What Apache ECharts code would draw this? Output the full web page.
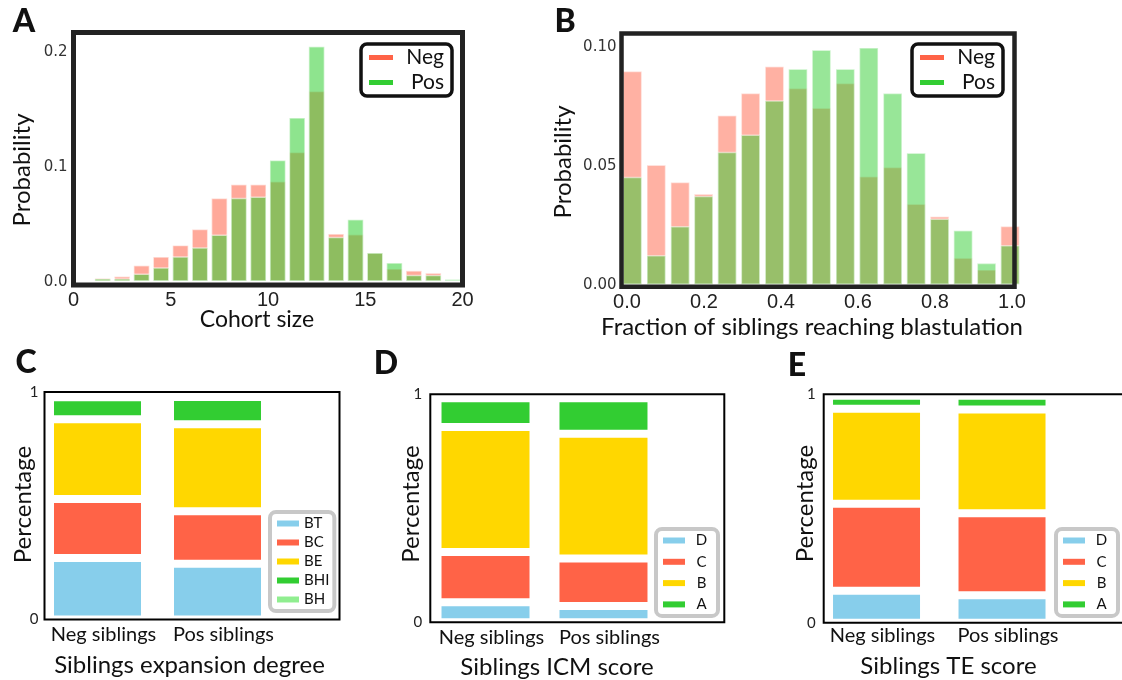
<!DOCTYPE html>
<html>
<head>
<meta charset="utf-8">
<script src="https://cdn.jsdelivr.net/npm/echarts@6/dist/echarts.min.js"></script>
<style>
  html, body { margin: 0; background: #fff; }
  #chart { width: 1122px; height: 680px; }
</style>
</head>
<body>
<div id="chart"></div>
<script>
// panel A: cohort size histogram
const cohortBins = [1.5, 2.5, 3.5, 4.5, 5.5, 6.5, 7.5, 8.5, 9.5, 10.5, 11.5, 12.5, 13.5, 14.5, 15.5, 16.5, 17.5, 18.5, 19.5]
const cohortNeg = [0.0035, 0.005, 0.0145, 0.022, 0.032, 0.046, 0.073, 0.085, 0.085, 0.0875, 0.113, 0.166, 0.042, 0.0415, 0.0255, 0.0116, 0.010, 0.008, 0]
const cohortPos = [0.003, 0.003, 0.007, 0.0125, 0.022, 0.030, 0.041, 0.073, 0.074, 0.106, 0.143, 0.205, 0.039, 0.0545, 0.0255, 0.0168, 0.006, 0.006, 0.0025]
const cohortTicks = [0, 5, 10, 15, 20]
const probTicksA = [0, 0.1, 0.2]

// panel B: fraction of siblings reaching blastulation
const fracBins = [0.014, 0.076, 0.138, 0.199, 0.260, 0.321, 0.383, 0.444, 0.505, 0.567, 0.628, 0.690, 0.751, 0.812, 0.873, 0.934, 0.995]
const fracNeg = [0.090, 0.0507, 0.0434, 0.0385, 0.0714, 0.0808, 0.092, 0.0829, 0.0746, 0.085, 0.0458, 0.0497, 0.0343, 0.029, 0.0116, 0.0066, 0.0249]
const fracPos = [0.0455, 0.0126, 0.0248, 0.0375, 0.056, 0.0633, 0.0777, 0.091, 0.099, 0.091, 0.0999, 0.0808, 0.0557, 0.028, 0.0231, 0.0094, 0.0168]
const fracTicks = [0, 0.2, 0.4, 0.6, 0.8, 1.0]
const probTicksB = [0, 0.05, 0.1]

// panels C-E: stacked shares, [Neg siblings, Pos siblings]
const sibCats = ['Neg siblings', 'Pos siblings']

const expBT = [0.270, 0.245]
const expBC = [0.260, 0.231]
const expBE = [0.350, 0.382]
const expBHI = [0.097, 0.120]
const expBH = [0, 0]

const icmD = [0.087, 0.071]
const icmC = [0.221, 0.208]
const icmB = [0.548, 0.548]
const icmA = [0.127, 0.156]

const teD = [0.140, 0.120]
const teC = [0.381, 0.359]
const teB = [0.416, 0.454]
const teA = [0.057, 0.061]

const RED = '#ff6347'
const GREEN = '#32cd32'
const BLUE = '#87ceeb'
const GOLD = '#ffd700'
const LIGHTGREEN = '#90ee90'

const chart = echarts.init(document.getElementById('chart'))

const noLines = {
  axisLine: { show: false },
  axisTick: { show: false },
  splitLine: { show: false }
}

const histBar = (name, bins, vals, axis, color, alpha, width) => ({
  name,
  type: 'bar',
  xAxisIndex: axis,
  yAxisIndex: axis,
  data: bins.map((x, i) => [x, vals[i]]),
  barWidth: width,
  barGap: '-100%',
  itemStyle: { color, opacity: alpha, borderColor: '#fff', borderWidth: 1.5 },
  emphasis: { disabled: true }
})

// value first so the stack runs along y (both axes are value axes)
const stackBar = (name, vals, axis, color, stack, width) => ({
  name,
  type: 'bar',
  stack,
  xAxisIndex: axis,
  yAxisIndex: axis,
  data: vals.map((v, i) => [v, i]),
  encode: { x: 1, y: 0 },
  barWidth: width,
  itemStyle: { color, borderColor: '#fff', borderWidth: name === 'BH' ? 0 : 4 },
  emphasis: { disabled: true }
})

const catXAxis = (gridIndex, min, max, margin) => ({
  type: 'value',
  gridIndex,
  min,
  max,
  ...noLines,
  axisLabel: {
    customValues: [0, 1],
    formatter: v => sibCats[Math.round(v)],
    fontFamily: 'Lato',
    fontSize: 20,
    color: '#111',
    margin,
    padding: [0, 0, 0, 12]
  }
})

const pctYAxis = (gridIndex, margin) => ({
  type: 'value',
  gridIndex,
  min: 0,
  max: 1,
  interval: 1,
  ...noLines,
  axisLabel: { fontFamily: 'Lato', fontSize: 15, color: '#222', margin }
})

const bigLegend = (left, items) => ({
  left,
  top: 44,
  orient: 'vertical',
  selectedMode: false,
  icon: 'rect',
  itemWidth: 24,
  itemHeight: 5,
  itemGap: 4,
  padding: [3, 8, 3, 8],
  borderColor: '#111',
  borderWidth: 3.5,
  borderRadius: 6,
  backgroundColor: '#fff',
  data: items.map(([n, c]) => ({ name: n, itemStyle: { color: c, opacity: 1, borderWidth: 0 } })),
  formatter: '{t|{name}}',
  textStyle: {
    rich: { t: { width: 46, align: 'right', fontFamily: 'Lato', fontSize: 21, lineHeight: 20, color: '#111' } }
  }
})

const smallLegend = (left, top, items, rowGap, textW) => ({
  left,
  top,
  orient: 'vertical',
  selectedMode: false,
  icon: 'rect',
  itemWidth: 22,
  itemHeight: 6,
  itemGap: rowGap,
  padding: [4, 5, 4, 7],
  borderColor: '#c8c8c8',
  borderWidth: 4,
  borderRadius: 6,
  backgroundColor: '#fff',
  data: items.map(([n, c]) => ({ name: n, itemStyle: { color: c, opacity: 1, borderWidth: 0 } })),
  formatter: '{t|{name}}',
  textStyle: {
    rich: { t: { width: textW, align: textW ? 'center' : 'left', fontFamily: 'Lato', fontSize: 15, lineHeight: 15, color: '#111' } }
  }
})

const label = (text, x, y, size, rotate, weight) => ({
  type: 'text',
  x,
  y,
  rotation: rotate ? Math.PI / 2 : 0,
  silent: true,
  style: {
    text,
    fill: '#111',
    fontFamily: 'Lato',
    fontSize: size,
    fontWeight: weight || 'normal',
    align: 'center',
    verticalAlign: 'middle'
  }
})

const option = {
  animation: false,
  backgroundColor: '#fff',
  grid: [
    { left: 73.5, top: 32.5, width: 389, height: 252.5, show: true, borderColor: '#222', borderWidth: 5, z: 5, outerBoundsMode: 'none' },
    { left: 621.5, top: 33.5, width: 393, height: 253.2, show: true, borderColor: '#222', borderWidth: 4.5, z: 5, outerBoundsMode: 'none' },
    { left: 44.5, top: 392, width: 295, height: 227.5, show: true, borderColor: '#000', borderWidth: 2, z: 5, outerBoundsMode: 'none' },
    { left: 430.3, top: 394.3, width: 294, height: 227.9, show: true, borderColor: '#000', borderWidth: 2, z: 5, outerBoundsMode: 'none' },
    { left: 823.7, top: 394.3, width: 306, height: 228.4, show: true, borderColor: '#000', borderWidth: 2, z: 5, outerBoundsMode: 'none' }
  ],
  xAxis: [
    {
      type: 'value', gridIndex: 0, min: 0, max: 20, interval: 5, ...noLines,
      axisLabel: { customValues: cohortTicks, fontFamily: "'Liberation Sans Narrow', 'Arial Narrow', sans-serif", fontSize: 20, color: '#222', margin: 5 }
    },
    {
      type: 'value', gridIndex: 1, min: -0.0143, max: 1.0065, ...noLines,
      axisLabel: { customValues: fracTicks, formatter: v => v.toFixed(1), fontFamily: "'Liberation Sans Narrow', 'Arial Narrow', sans-serif", fontSize: 20, color: '#222', margin: 6 }
    },
    catXAxis(2, -0.4417, 2.0167, 5),
    catXAxis(3, -0.468, 2.024, 5),
    catXAxis(4, -0.421, 2.0175, 3)
  ],
  yAxis: [
    {
      type: 'value', gridIndex: 0, min: -0.0029, max: 0.2167, ...noLines,
      axisLabel: { customValues: probTicksA, formatter: v => v.toFixed(1), fontFamily: 'DejaVu Sans', fontSize: 15, color: '#333', margin: 6, padding: [0, 0, 12, 0] }
    },
    {
      type: 'value', gridIndex: 1, min: -0.0007, max: 0.1057, ...noLines,
      axisLabel: { customValues: probTicksB, formatter: v => v.toFixed(2), fontFamily: 'DejaVu Sans', fontSize: 15, color: '#333', margin: 5 }
    },
    pctYAxis(2, 6),
    pctYAxis(3, 8),
    pctYAxis(4, 8)
  ],
  legend: [
    bigLegend(361, [['Neg', RED], ['Pos', GREEN]]),
    bigLegend(912, [['Neg', RED], ['Pos', GREEN]]),
    smallLegend(270, 512, [['BT', BLUE], ['BC', RED], ['BE', GOLD], ['BHI', GREEN], ['BH', LIGHTGREEN]], 4, 0),
    smallLegend(656, 529, [['D', BLUE], ['C', RED], ['B', GOLD], ['A', GREEN]], 6.3, 23),
    smallLegend(1056, 529, [['D', BLUE], ['C', RED], ['B', GOLD], ['A', GREEN]], 6.3, 23)
  ],
  series: [
    histBar('Neg', cohortBins, cohortNeg, 0, RED, 0.55, 17),
    histBar('Pos', cohortBins, cohortPos, 0, GREEN, 0.55, 17),
    histBar('Neg', fracBins, fracNeg, 1, RED, 0.5, 20),
    histBar('Pos', fracBins, fracPos, 1, GREEN, 0.5, 20),

    stackBar('BT', expBT, 2, BLUE, 'exp', 95),
    stackBar('BC', expBC, 2, RED, 'exp', 95),
    stackBar('BE', expBE, 2, GOLD, 'exp', 95),
    stackBar('BHI', expBHI, 2, GREEN, 'exp', 95),
    stackBar('BH', expBH, 2, LIGHTGREEN, 'exp', 95),

    stackBar('D', icmD, 3, BLUE, 'icm', 96),
    stackBar('C', icmC, 3, RED, 'icm', 96),
    stackBar('B', icmB, 3, GOLD, 'icm', 96),
    stackBar('A', icmA, 3, GREEN, 'icm', 96),

    stackBar('D', teD, 4, BLUE, 'te', 95),
    stackBar('C', teC, 4, RED, 'te', 95),
    stackBar('B', teB, 4, GOLD, 'te', 95),
    stackBar('A', teA, 4, GREEN, 'te', 95)
  ],
  graphic: [
    label('A', 24, 21.5, 32, false, 900),
    label('B', 565, 21.5, 32, false, 900),
    label('C', 26, 363, 32, false, 900),
    label('D', 386, 364, 32, false, 900),
    label('E', 797, 366, 32, false, 900),

    label('Cohort size', 257, 320, 23),
    label('Probability', 22.5, 170, 24, true),
    label('Fraction of siblings reaching blastulation', 812, 327, 24),
    label('Probability', 563, 162, 24, true),

    label('Siblings expansion degree', 189.5, 665, 24),
    label('Percentage', 23, 504.5, 24, true),
    label('Siblings ICM score', 557, 667, 24),
    label('Percentage', 411, 504, 24, true),
    label('Siblings TE score', 948.5, 666, 24),
    label('Percentage', 805, 503.5, 24, true)
  ]
}

chart.setOption(option)
</script>
</body>
</html>
